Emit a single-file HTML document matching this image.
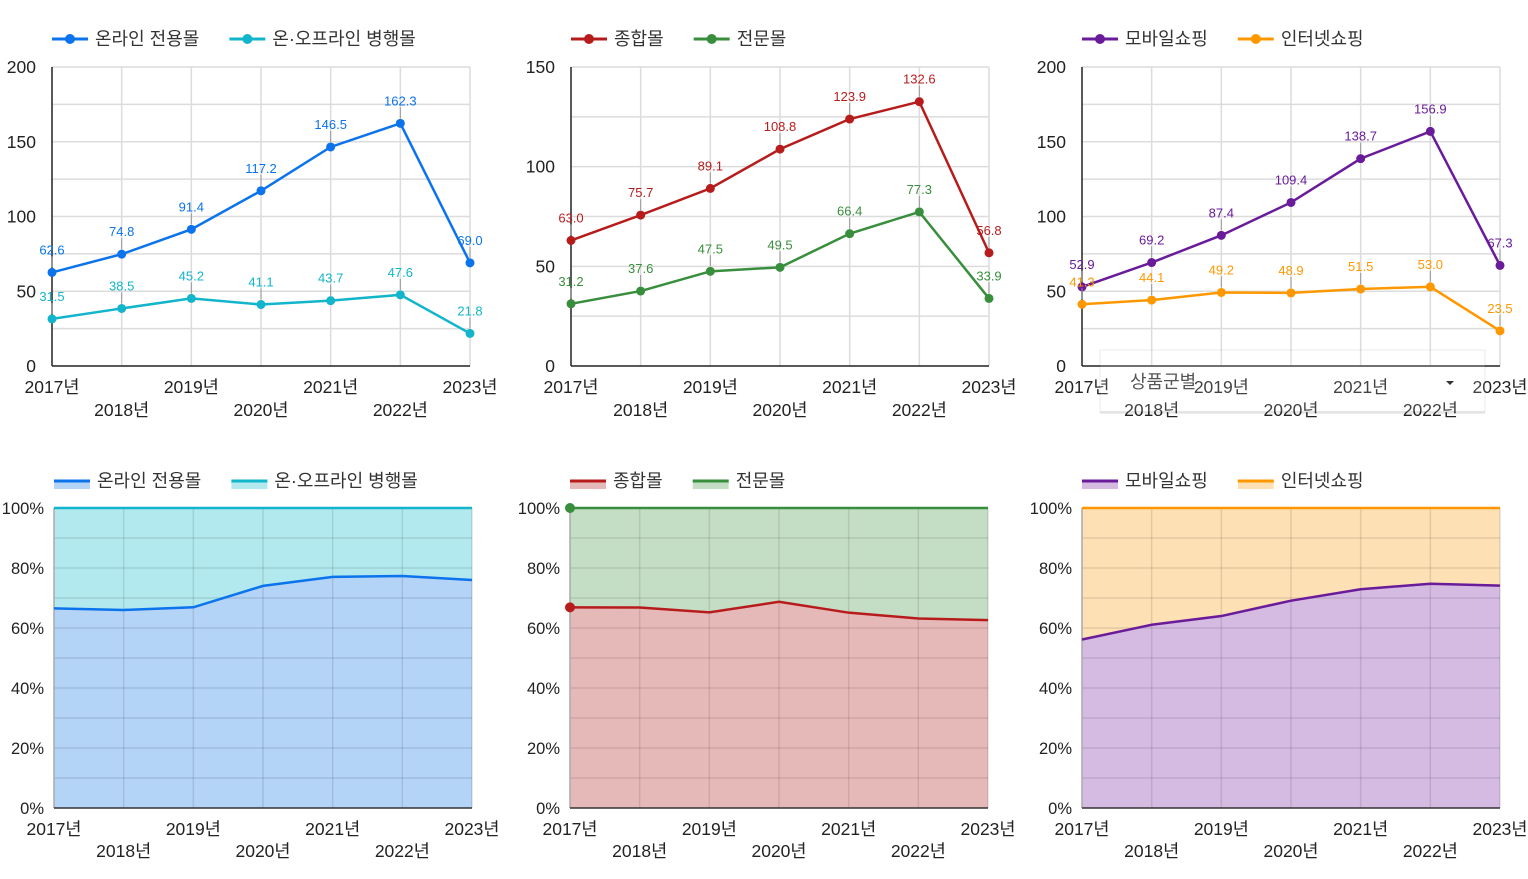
<!DOCTYPE html>
<html><head><meta charset="utf-8">
<style>
html,body{margin:0;padding:0;background:#fff;}
svg{display:block;font-family:"Liberation Sans","Noto Sans CJK KR",sans-serif;}
</style></head>
<body>
<svg id="c" width="1528" height="879" viewBox="0 0 1528 879" xmlns="http://www.w3.org/2000/svg"></svg>
<script>
const years = ["2017년","2018년","2019년","2020년","2021년","2022년","2023년"];
const onlineOnly = [62.6,74.8,91.4,117.2,146.5,162.3,69.0];
const onOffline = [31.5,38.5,45.2,41.1,43.7,47.6,21.8];
const general = [63.0,75.7,89.1,108.8,123.9,132.6,56.8];
const specialty = [31.2,37.6,47.5,49.5,66.4,77.3,33.9];
const mobile = [52.9,69.2,87.4,109.4,138.7,156.9,67.3];
const internet = [41.3,44.1,49.2,48.9,51.5,53.0,23.5];
const ticks200 = [0,50,100,150,200];
const ticks150 = [0,50,100,150];
const pctTicks = [0,20,40,60,80,100];

const NS="http://www.w3.org/2000/svg";
const svg=document.getElementById('c');
function mk(tag,attrs,parent){const e=document.createElementNS(NS,tag);for(const k in attrs)e.setAttribute(k,attrs[k]);(parent||svg).appendChild(e);return e;}

const charts=[
 {x0:52,x1:470,names:["온라인 전용몰","온·오프라인 병행몰"],a:onlineOnly,b:onOffline,ca:"#0b73eb",cb:"#12b5cb",fa:"#b3d3f7",fb:"#b2e9ef",max:200,ticks:ticks200,lx:52,key:"online"},
 {x0:571,x1:989,names:["종합몰","전문몰"],a:general,b:specialty,ca:"#b71c1c",cb:"#388e3c",fa:"#e6b9b9",fb:"#c4ddc5",max:150,ticks:ticks150,lx:571,key:"general"},
 {x0:1082,x1:1500,names:["모바일쇼핑","인터넷쇼핑"],a:mobile,b:internet,ca:"#6a1b9a",cb:"#ff9800",fa:"#d5bae1",fb:"#fde0b4",max:200,ticks:ticks200,lx:1082,key:"mobile"}
];

charts.forEach((c,ci)=>{
 const yT=67,yB=366;
 const g=mk('g',{});
 
 
 const X=i=>c.x0+(c.x1-c.x0)*i/(years.length-1);
 const Y=v=>yB-(yB-yT)*v/c.max;
 for(let v=0;v<=c.max;v+=25){ if(v===0)continue; mk('line',{x1:c.x0,x2:c.x1,y1:Y(v),y2:Y(v),stroke:"#dcdcdc","stroke-width":1.5},g); }
 years.forEach((y,i)=>{ if(i>0) mk('line',{x1:X(i),x2:X(i),y1:yT,y2:yB,stroke:"#dcdcdc","stroke-width":1.5},g); });
 mk('line',{x1:c.x0,x2:c.x0,y1:yT,y2:yB,stroke:"#222","stroke-width":1.5},g);
 mk('line',{x1:c.x0,x2:c.x1,y1:yB,y2:yB,stroke:"#222","stroke-width":1.5},g);
 c.ticks.forEach(v=>{const t=mk('text',{x:c.x0-16,y:Y(v)+6,"text-anchor":"end","font-size":17.5,fill:"#222"},g);t.textContent=v;
  });
 years.forEach((y,i)=>{const t=mk('text',{x:X(i),y:i%2===0?yB+27:yB+50,"text-anchor":"middle","font-size":17.5,fill:"#222"},g);t.textContent=y;
  });
 [[c.a,c.ca,'a'],[c.b,c.cb,'b']].forEach(([arr,col,s])=>{
  const p=mk('polyline',{points:arr.map((v,i)=>X(i)+","+Y(v)).join(" "),fill:"none",stroke:col,"stroke-width":2.5},g);
  
  arr.forEach((v,i)=>{
   mk('line',{x1:X(i),x2:X(i),y1:Y(v)-5,y2:Y(v)-16,stroke:"#999","stroke-width":1},g);
   const d=mk('circle',{cx:X(i),cy:Y(v),r:4.5,fill:col},g);
   
   const t=mk('text',{x:X(i),y:Y(v)-18,"text-anchor":"middle","font-size":13,fill:col},g);t.textContent=v.toFixed(1);
   
  });
 });
 const lg=mk('g',{},g);
 
 let lx=c.lx;
 c.names.forEach((n,k)=>{
  const col=k?c.cb:c.ca;
  mk('line',{x1:lx,x2:lx+36,y1:39,y2:39,stroke:col,"stroke-width":3},lg);
  mk('circle',{cx:lx+18,cy:39,r:5,fill:col},lg);
  const t=mk('text',{x:lx+43,y:45,"font-size":18,fill:"#333"},lg);t.textContent=n;
  
  lx+=43+t.getComputedTextLength()+30;
 });

 const bx0=c.x0+(ci===0?2:ci===1?-1:0), bx1=c.x1+(ci===0?2:ci===1?-1:0);
 const bT=508,bB=808;
 const h=mk('g',{});
 
 
 const BX=i=>bx0+(bx1-bx0)*i/(years.length-1);
 const BY=p=>bB-(bB-bT)*p/100;
 const share=c.a.map((v,i)=>v/(v+c.b[i])*100);
 mk('rect',{x:bx0,y:bT,width:bx1-bx0,height:bB-bT,fill:c.fb},h);
 const pts=share.map((p,i)=>BX(i)+","+BY(p)).join(" ");
 mk('polygon',{points:bx0+","+bB+" "+pts+" "+bx1+","+bB,fill:c.fa},h);
 for(let p=10;p<=90;p+=10) mk('line',{x1:bx0,x2:bx1,y1:BY(p),y2:BY(p),stroke:"rgba(0,0,0,0.1)","stroke-width":1.5},h);
 years.forEach((y,i)=>{ if(i>0&&i<6) mk('line',{x1:BX(i),x2:BX(i),y1:bT,y2:bB,stroke:"rgba(0,0,0,0.1)","stroke-width":1.5},h); });
 mk('line',{x1:bx1,x2:bx1,y1:bT,y2:bB,stroke:"rgba(0,0,0,0.12)","stroke-width":1.5},h);
 mk('line',{x1:bx0,x2:bx0,y1:bT,y2:bB,stroke:"#aaa","stroke-width":1.5},h);
 mk('line',{x1:bx0,x2:bx1,y1:bB,y2:bB,stroke:"#333","stroke-width":1.5},h);
 mk('line',{x1:bx0,x2:bx1,y1:bT,y2:bT,stroke:c.cb,"stroke-width":2.5},h);
 const pl=mk('polyline',{points:pts,fill:"none",stroke:c.ca,"stroke-width":2.5},h);
 
 if(ci===1){ mk('circle',{cx:bx0,cy:BY(share[0]),r:5,fill:c.ca},h); mk('circle',{cx:bx0,cy:bT,r:5,fill:c.cb},h); }
 pctTicks.forEach(p=>{const t=mk('text',{x:bx0-10,y:BY(p)+6,"text-anchor":"end","font-size":16.5,fill:"#222"},h);t.textContent=p+"%";
  });
 years.forEach((y,i)=>{const t=mk('text',{x:BX(i),y:i%2===0?bB+27:bB+49,"text-anchor":"middle","font-size":17.5,fill:"#222"},h);t.textContent=y;
  });
 const lg2=mk('g',{},h);
 
 let lx2=bx0;
 c.names.forEach((n,k)=>{
  const col=k?c.cb:c.ca, fc=k?c.fb:c.fa;
  mk('rect',{x:lx2,y:481,width:36,height:8,fill:fc},lg2);
  mk('line',{x1:lx2,x2:lx2+36,y1:481,y2:481,stroke:col,"stroke-width":3},lg2);
  const t=mk('text',{x:lx2+43,y:487,"font-size":18,fill:"#333"},lg2);t.textContent=n;
  
  lx2+=43+t.getComputedTextLength()+30;
 });
});

const dd=mk('g',{});


mk('rect',{x:1100,y:350,width:385,height:62,fill:"rgba(255,255,255,0.15)",stroke:"rgba(0,0,0,0.08)"},dd);
mk('rect',{x:1100,y:411,width:385,height:3,fill:"rgba(0,0,0,0.07)"},dd);
const dt=mk('text',{x:1130,y:388,"font-size":18,fill:"#555"},dd);dt.textContent="상품군별";

mk('polygon',{points:"1446,381 1454,381 1450,385",fill:"#333"},dd);
</script>
</body></html>
